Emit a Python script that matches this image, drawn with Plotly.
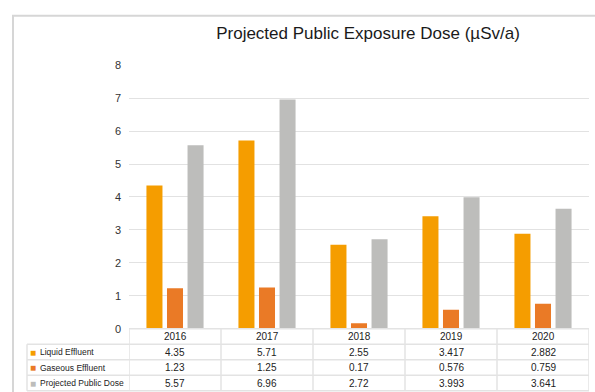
import plotly.graph_objects as go

years = ["2016", "2017", "2018", "2019", "2020"]
liquid = [4.35, 5.71, 2.55, 3.417, 2.882]
gaseous = [1.23, 1.25, 0.17, 0.576, 0.759]
projected = [5.57, 6.96, 2.72, 3.993, 3.641]
series_names = ["Liquid Effluent", "Gaseous Effluent", "Projected Public Dose"]
liquid_txt = ["4.35", "5.71", "2.55", "3.417", "2.882"]
gaseous_txt = ["1.23", "1.25", "0.17", "0.576", "0.759"]
projected_txt = ["5.57", "6.96", "2.72", "3.993", "3.641"]

colors = ["#f59d00", "#ea7a26", "#bdbdbb"]
W, H = 595, 392
TABLE_TOP = 333      # px from top
ROW_H = 16
LABEL_LEFT = 27      # px, left edge of label column
PLOT_LEFT, PLOT_RIGHT = 129, 589
LINE_C = "#e3e3e3"


def py(px):
    """pixel-from-top -> paper y"""
    return (H - px) / H


fig = go.Figure()
for name, vals, c in zip(series_names, [liquid, gaseous, projected], colors):
    fig.add_trace(go.Bar(x=years, y=vals, name=name, marker=dict(color=c, line=dict(width=0))))

annotations = []
shapes = [dict(type="rect", xref="paper", yref="paper", x0=13 / W, x1=1.05, y0=-0.05, y1=py(10),
               line=dict(color="#d6d6d6", width=2), layer="below")]

# --- data table drawn with annotations + lines ---
n_rows = len(series_names)
table_bottom = TABLE_TOP + ROW_H * (n_rows + 1)
shapes.append(dict(type="line", xref="paper", yref="paper", x0=PLOT_LEFT / W, x1=PLOT_RIGHT / W,
                   y0=py(TABLE_TOP), y1=py(TABLE_TOP), line=dict(color=LINE_C, width=1.5)))
for r in range(1, n_rows + 2):
    yy = py(TABLE_TOP + ROW_H * r)
    shapes.append(dict(type="line", xref="paper", yref="paper", x0=LABEL_LEFT / W, x1=PLOT_RIGHT / W,
                       y0=yy, y1=yy, line=dict(color=LINE_C, width=1.5)))
shapes.append(dict(type="line", xref="paper", yref="paper", x0=LABEL_LEFT / W, x1=LABEL_LEFT / W,
                   y0=py(TABLE_TOP + ROW_H), y1=py(table_bottom), line=dict(color=LINE_C, width=1.5)))
for k in range(len(years) + 1):
    shapes.append(dict(type="line", xref="x", yref="paper", x0=k - 0.5, x1=k - 0.5,
                       y0=py(TABLE_TOP), y1=py(table_bottom), line=dict(color=LINE_C, width=1.5)))

# category index positions on the categorical x axis
for k, yr in enumerate(years):
    annotations.append(dict(xref="x", yref="paper", x=k, y=py(TABLE_TOP + ROW_H / 2),
                            text=yr, showarrow=False, xanchor="center", yanchor="middle",
                            font=dict(size=10, color="#222")))
for i, (name, c, txts) in enumerate(zip(series_names, colors, [liquid_txt, gaseous_txt, projected_txt])):
    yc = py(TABLE_TOP + ROW_H * (i + 1) + ROW_H / 2)
    annotations.append(dict(xref="paper", yref="paper", x=33 / W, y=yc, text="■", showarrow=False,
                            xanchor="center", yanchor="middle", font=dict(size=10, color=c)))
    annotations.append(dict(xref="paper", yref="paper", x=37.5 / W, y=yc, text=name, showarrow=False,
                            xanchor="left", yanchor="middle", font=dict(size=8.5, color="#222")))
    for k, t in enumerate(txts):
        annotations.append(dict(xref="x", yref="paper", x=k, y=yc, text=t, showarrow=False,
                                xanchor="center", yanchor="middle", font=dict(size=10, color="#222")))

fig.update_layout(
    width=W, height=H,
    margin=dict(l=0, r=0, t=0, b=0),
    paper_bgcolor="white", plot_bgcolor="white",
    showlegend=False,
    barmode="group", bargap=0.33, bargroupgap=0.22,
    font=dict(family="Liberation Sans, Arial", color="#333"),
    title=dict(text="Projected Public Exposure Dose (µSv/a)", x=368 / W, xanchor="center",
               y=py(33), yanchor="middle",
               font=dict(size=17, color="#1a1a1a", family="Liberation Sans, Arial")),
    xaxis=dict(type="category", domain=[PLOT_LEFT / W, PLOT_RIGHT / W], range=[-0.5, len(years) - 0.5],
               showticklabels=False, showgrid=False, zeroline=False, ticks="", showline=False),
    yaxis=dict(domain=[py(TABLE_TOP), py(61)], range=[0, 8], dtick=1,
               showgrid=True, gridcolor="#e2e2e2", gridwidth=1, zeroline=False,
               ticks="", showline=False, ticklabelstandoff=7,
               tickfont=dict(size=11, color="#333")),
    annotations=annotations,
    shapes=shapes,
)

fig.write_html("out.html")
